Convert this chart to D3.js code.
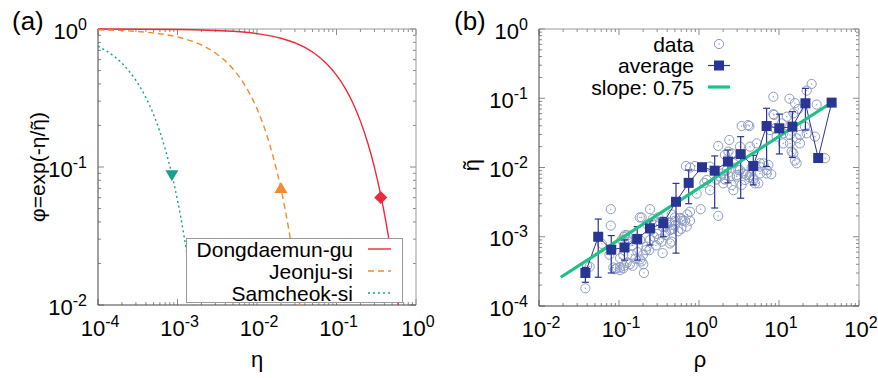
<!DOCTYPE html>
<html>
<head>
<meta charset="utf-8">
<script src="https://cdn.jsdelivr.net/npm/d3@7"></script>
<style>
  body { margin: 0; background: #fff; }
  text { font-family: "Liberation Sans", Arial, sans-serif; fill: #000; }
</style>
</head>
<body>
<div id="chart"></div>
<script>
// ---- panel (a): phi = exp(-eta / eta~) curves
const cities = ["Dongdaemun-gu", "Jeonju-si", "Samcheok-si"];
const dongEta = [1e-4, 1e-3, 0.005, 0.01, 0.02, 0.04, 0.06, 0.08, 0.1, 0.13, 0.16, 0.2, 0.25, 0.3, 0.36, 0.42, 0.5, 0.6];
const dongPhi = [0.999, 0.992, 0.962, 0.926, 0.857, 0.735, 0.630, 0.540, 0.463, 0.368, 0.292, 0.215, 0.146, 0.0995, 0.0627, 0.0395, 0.0214, 0.0099];
const jeonEta = [1e-4, 3e-4, 6e-4, 1e-3, 2e-3, 3e-3, 5e-3, 7e-3, 0.01, 0.013, 0.016, 0.02, 0.025, 0.03, 0.035];
const jeonPhi = [0.987, 0.961, 0.923, 0.875, 0.766, 0.670, 0.513, 0.393, 0.264, 0.177, 0.118, 0.0695, 0.0357, 0.0183, 0.0094];
const samEta = [1e-4, 1.5e-4, 2e-4, 3e-4, 4e-4, 5e-4, 6e-4, 7e-4, 8.5e-4, 1e-3, 1.2e-3, 1.4e-3, 1.6e-3, 1.7e-3];
const samPhi = [0.751, 0.651, 0.565, 0.424, 0.319, 0.240, 0.180, 0.135, 0.088, 0.0574, 0.0324, 0.0183, 0.0103, 0.0077];
const markEta = [0.36, 0.020, 0.00085];
const markPhi = [0.060, 0.070, 0.088];
const xExpA = [-4, -3, -2, -1, 0];
const yExpA = [-2, -1, 0];

// ---- panel (b): eta~ vs rho
const dataPts = [
  [0.038,0.00018],[0.040,0.00038],[0.079,0.0025],[0.079,0.00145],[0.076,0.00055],[0.085,0.00036],[0.094,0.00035],
  [0.103,0.00036],[0.115,0.00038],[0.108,0.00090],[0.115,0.00100],[0.127,0.00105],[0.132,0.00085],[0.144,0.00055],
  [0.148,0.00075],[0.163,0.00090],[0.183,0.00090],[0.201,0.00040],[0.183,0.00047],[0.205,0.00030],[0.182,0.0019],
  [0.244,0.0025],[0.222,0.00072],[0.239,0.00064],[0.274,0.00100],[0.249,0.00125],[0.226,0.0015],[0.325,0.00165],
  [0.358,0.00137],[0.376,0.00106],[0.402,0.0015],[0.426,0.0016],[0.455,0.00085],[0.478,0.0013],[0.50,0.0019],
  [0.579,0.00187],[0.625,0.0017],[0.668,0.0017],[0.715,0.0021],[0.772,0.0023],[0.688,0.0105],[0.89,0.0105],
  [1.05,0.0025],[1.17,0.0060],[1.25,0.0066],[1.74,0.0020],[1.37,0.0103],[1.37,0.0047],[1.66,0.0067],[1.74,0.0205],
  [1.92,0.0082],[2.01,0.0059],[2.11,0.0067],[2.44,0.0074],[2.56,0.0056],[2.69,0.0047],[2.96,0.0078],[3.10,0.0092],
  [3.25,0.0200],[3.41,0.0056],[3.58,0.0082],[3.94,0.0078],[4.26,0.0072],[4.55,0.0098],[4.78,0.0066],[5.01,0.0059],
  [5.52,0.0059],[5.79,0.0082],[7.01,0.0082],[4.34,0.0200],[11.3,0.0223],[13.7,0.0223],[15.1,0.0160],[16.6,0.0115],
  [15.8,0.0126],[37.6,0.0136],[25.6,0.161],[22.2,0.129],[8.5,0.105],[13.5,0.0986],[29.6,0.081],[8.5,0.059],
  [15.1,0.0606],[12.5,0.0542],[4.26,0.0397],[5.26,0.0223],[11.3,0.0311],[18.3,0.0295],[18.3,0.0223],[14.4,0.0170],
  [5.79,0.0103],[7.36,0.0109],[9.35,0.0279],[7.72,0.0348],[8.9,0.0368],[10.8,0.0434],[13.7,0.0295],[16.6,0.0264],
  [21.1,0.0389],[2.39,0.0250],[2.33,0.0170],[2.56,0.0160],[6.37,0.0115],[0.607,0.0018],[0.455,0.0021],[0.50,0.0017],
  [0.935,0.0042],[3.41,0.0397],[4.10,0.041],[28.2,0.0279],[8.66,0.0574],[0.119,0.00106],[0.131,0.00090],
  [0.113,0.00055],[0.103,0.00049],[0.089,0.00034],[0.113,0.00035],[0.148,0.00038],[0.192,0.00044],[0.217,0.00064],
  [0.244,0.00090],[0.192,0.0019],[0.310,0.0019],[0.264,0.0018],[0.341,0.00085],[0.319,0.00092],[0.434,0.00080],
  [0.351,0.00058],[0.455,0.00128],[0.387,0.00118],[0.043,0.00037],[0.061,0.00079],[0.103,0.00033],[0.50,0.00146],
  [0.376,0.0014],[0.434,0.00125],[0.701,0.0014],[0.772,0.0017],[3.25,0.0092],[2.96,0.0074],[3.76,0.0066],
  [4.34,0.0078],[4.78,0.0070],[5.79,0.0115],[7.01,0.0092],[2.11,0.0152],[2.69,0.0115],[1.83,0.0074],[2.22,0.0092],
  [0.772,0.0100],[15.8,0.085],[17.5,0.070],[22.2,0.0311],[8.0,0.0080],
  [0.125,0.00042],[0.137,0.00040],[0.160,0.00048],[0.170,0.00060],[0.200,0.00055],[0.290,0.00075],[0.300,0.0011],
  [0.55,0.0012],[0.60,0.0013]
];
const avgRho = [0.038, 0.055, 0.080, 0.117, 0.169, 0.244, 0.358, 0.516, 0.743, 1.09, 1.57, 2.30, 3.32, 4.77, 7.0, 10.1, 14.7, 21.4, 30.9, 45.5];
const avgEta = [3.0e-4, 1.0e-3, 6.5e-4, 7.0e-4, 9.3e-4, 1.32e-3, 1.57e-3, 3.2e-3, 6.0e-3, 1.01e-2, 9.0e-3, 1.22e-2, 1.56e-2, 1.05e-2, 3.97e-2, 3.68e-2, 3.89e-2, 8.46e-2, 1.37e-2, 8.65e-2];
const avgLo = [2.2e-4, 2.6e-4, 3.0e-4, 4.6e-4, 4.6e-4, 7.6e-4, 1.0e-3, 5.8e-4, 3.0e-3, 9.5e-3, 2.6e-3, 6.0e-3, 3.6e-3, 5.6e-3, 1.03e-2, 1.57e-2, 1.40e-2, 3.48e-2, 1.37e-2, 8.65e-2];
const avgHi = [3.6e-4, 1.8e-3, 1.04e-3, 9.0e-4, 1.4e-3, 1.7e-3, 1.9e-3, 5.9e-3, 9.2e-3, 1.07e-2, 1.47e-2, 1.79e-2, 2.79e-2, 1.50e-2, 7.16e-2, 5.9e-2, 6.4e-2, 0.139, 1.37e-2, 8.65e-2];
const slopeRho = [0.0187, 42.6];
const slopeEta = [2.6e-4, 0.0826];
const legendB = ["data", "average", "slope: 0.75"];
const xExpB = [-2, -1, 0, 1, 2];
const yExpB = [-4, -3, -2, -1, 0];

const cityColors = ["#ec2a3c", "#f5892d", "#17a08b"];
const navy = "#283593";

const svg = d3.select("#chart").append("svg")
  .attr("width", 878).attr("height", 378);

const xA = d3.scaleLog().domain([1e-4, 1]).range([98, 416]);
const yA = d3.scaleLog().domain([1e-2, 1]).range([305, 29]);
const xB = d3.scaleLog().domain([1e-2, 1e2]).range([539, 859]);
const yB = d3.scaleLog().domain([1e-4, 1]).range([306, 29]);

// log ticks on all four sides, gnuplot-like
function frame(x, y, xExp, yExp, yLabelX) {
  const [x0, x1] = x.range(), [y0, y1] = y.range();
  const g = svg.append("g");
  const minors = exps => {
    const out = [];
    exps.slice(0, -1).forEach(e => { for (let k = 2; k < 10; k++) out.push(k * Math.pow(10, e)); });
    return out;
  };
  const tick = "#8a8a8a";
  xExp.map(e => Math.pow(10, e)).forEach(v => {
    g.append("line").attr("x1", x(v)).attr("x2", x(v)).attr("y1", y0).attr("y2", y0 - 6).attr("stroke", tick);
    g.append("line").attr("x1", x(v)).attr("x2", x(v)).attr("y1", y1).attr("y2", y1 + 6).attr("stroke", tick);
  });
  minors(xExp).forEach(v => {
    g.append("line").attr("x1", x(v)).attr("x2", x(v)).attr("y1", y0).attr("y2", y0 - 3).attr("stroke", tick);
    g.append("line").attr("x1", x(v)).attr("x2", x(v)).attr("y1", y1).attr("y2", y1 + 3).attr("stroke", tick);
  });
  yExp.map(e => Math.pow(10, e)).forEach(v => {
    g.append("line").attr("y1", y(v)).attr("y2", y(v)).attr("x1", x0).attr("x2", x0 + 6).attr("stroke", tick);
    g.append("line").attr("y1", y(v)).attr("y2", y(v)).attr("x1", x1).attr("x2", x1 - 6).attr("stroke", tick);
  });
  minors(yExp).forEach(v => {
    g.append("line").attr("y1", y(v)).attr("y2", y(v)).attr("x1", x0).attr("x2", x0 + 3).attr("stroke", tick);
    g.append("line").attr("y1", y(v)).attr("y2", y(v)).attr("x1", x1).attr("x2", x1 - 3).attr("stroke", tick);
  });
  g.append("path").attr("d", `M${x0},${y1}H${x1}V${y0}`).attr("fill", "none").attr("stroke", "#999");
  g.append("path").attr("d", `M${x0},${y1}V${y0}H${x1}`).attr("fill", "none").attr("stroke", "#444");

  const label = (px, py, e, anchor) => {
    const t = svg.append("text").attr("x", px).attr("y", py).attr("text-anchor", anchor)
      .style("font-size", "22px");
    t.append("tspan").text("10");
    t.append("tspan").attr("dy", -9).style("font-size", "16px").text(e);
  };
  xExp.forEach(e => label(x(Math.pow(10, e)) + 2, y0 + 31, e, "middle"));
  yExp.forEach(e => label(yLabelX, y(Math.pow(10, e)) + 9.5, e, "end"));
}

frame(xA, yA, xExpA, yExpA, 87);
frame(xB, yB, xExpB, yExpB, 528);

// ---- panel (a) content
svg.append("clipPath").attr("id", "clipA").append("rect")
  .attr("x", 98).attr("y", 28).attr("width", 318).attr("height", 277);
const curvesA = [[dongEta, dongPhi], [jeonEta, jeonPhi], [samEta, samPhi]];
const dashes = [null, "6,4", "2,3"];
const lineA = d3.line().x(d => xA(d[0])).y(d => yA(d[1])).curve(d3.curveMonotoneX);
const gA = svg.append("g").attr("clip-path", "url(#clipA)");
curvesA.forEach(([ex, ph], i) => {
  gA.append("path").datum(ex.map((v, j) => [v, ph[j]]))
    .attr("d", lineA).attr("fill", "none")
    .attr("stroke", cityColors[i]).attr("stroke-width", 1.4)
    .attr("stroke-dasharray", dashes[i]);
});
const markShapes = ["M0,-6.5L6.5,0L0,6.5L-6.5,0Z", "M0,-6.5L6.5,4.5L-6.5,4.5Z", "M-6.5,-4.5L6.5,-4.5L0,6.5Z"];
markEta.forEach((v, i) => {
  gA.append("path").attr("d", markShapes[i])
    .attr("transform", `translate(${xA(v)},${yA(markPhi[i])})`)
    .attr("fill", cityColors[i]);
});

// legend (a)
svg.append("rect").attr("x", 186.5).attr("y", 238.5).attr("width", 216).attr("height", 64)
  .attr("fill", "#fff").attr("stroke", "#999");
cities.forEach((c, i) => {
  const yy = 249 + i * 22;
  svg.append("text").attr("x", 353).attr("y", yy + 7.5).attr("text-anchor", "end")
    .style("font-size", "21px").text(c);
  svg.append("line").attr("x1", 368).attr("x2", 391).attr("y1", yy).attr("y2", yy)
    .attr("stroke", cityColors[i]).attr("stroke-width", 1.4).attr("stroke-dasharray", dashes[i]);
});

// ---- panel (b) content
svg.append("clipPath").attr("id", "clipB").append("rect")
  .attr("x", 539).attr("y", 29).attr("width", 320).attr("height", 277);
const gB = svg.append("g").attr("clip-path", "url(#clipB)");
const circ = (g, cx, cy) => {
  g.append("circle").attr("cx", cx).attr("cy", cy).attr("r", 4.6)
    .attr("fill", "none").attr("stroke", "#8e9cc4").attr("stroke-width", 1);
  g.append("circle").attr("cx", cx).attr("cy", cy).attr("r", 0.7).attr("fill", "#8e9cc4");
};
dataPts.forEach(d => circ(gB, xB(d[0]), yB(d[1])));

// average: connecting line, error bars
gB.append("path").datum(avgRho.map((r, i) => [r, avgEta[i]]))
  .attr("d", d3.line().x(d => xB(d[0])).y(d => yB(d[1])))
  .attr("fill", "none").attr("stroke", navy).attr("stroke-width", 1);
avgRho.forEach((r, i) => {
  const cx = xB(r);
  gB.append("line").attr("x1", cx).attr("x2", cx).attr("y1", yB(avgLo[i])).attr("y2", yB(avgHi[i]))
    .attr("stroke", navy).attr("stroke-width", 1.2);
  [avgLo[i], avgHi[i]].forEach(v => gB.append("line")
    .attr("x1", cx - 3.5).attr("x2", cx + 3.5).attr("y1", yB(v)).attr("y2", yB(v))
    .attr("stroke", navy).attr("stroke-width", 1.2));
});

// slope line
gB.append("line")
  .attr("x1", xB(slopeRho[0])).attr("y1", yB(slopeEta[0]))
  .attr("x2", xB(slopeRho[1])).attr("y2", yB(slopeEta[1]))
  .attr("stroke", "#1fc186").attr("stroke-width", 3.2);

avgRho.forEach((r, i) => {
  gB.append("rect").attr("x", xB(r) - 5).attr("y", yB(avgEta[i]) - 5)
    .attr("width", 10).attr("height", 10).attr("fill", navy);
});

// legend (b)
legendB.forEach((t, i) => {
  const yy = 44 + i * 21.5;
  svg.append("text").attr("x", 694).attr("y", yy + 7.5).attr("text-anchor", "end")
    .style("font-size", "21px").text(t);
});
circ(svg, 719, 44);
svg.append("line").attr("x1", 708).attr("x2", 730).attr("y1", 65.5).attr("y2", 65.5)
  .attr("stroke", navy).attr("stroke-width", 1.2);
svg.append("rect").attr("x", 714).attr("y", 60.5).attr("width", 10).attr("height", 10).attr("fill", navy);
svg.append("line").attr("x1", 708).attr("x2", 730).attr("y1", 87).attr("y2", 87)
  .attr("stroke", "#1fc186").attr("stroke-width", 3.2);

// ---- titles
svg.append("text").attr("x", 12).attr("y", 30).style("font-size", "26px").text("(a)");
svg.append("text").attr("x", 454).attr("y", 30).style("font-size", "26px").text("(b)");
svg.append("text").attr("x", 257).attr("y", 367).attr("text-anchor", "middle")
  .style("font-size", "22px").text("η");
svg.append("text").attr("x", 700).attr("y", 367).attr("text-anchor", "middle")
  .style("font-size", "22px").text("ρ");

// rotated titles; the tilde is put over the last eta by hand
function tildeTitle(tx, ty, str, size) {
  const g = svg.append("g").attr("transform", `translate(${tx},${ty}) rotate(-90)`);
  const t = g.append("text").attr("text-anchor", "middle").style("font-size", size + "px").text(str);
  const n = str.length - (str.endsWith(")") ? 2 : 1);
  const ext = t.node().getExtentOfChar(n);
  g.append("text").attr("x", ext.x + ext.width / 2).attr("y", 0)
    .attr("text-anchor", "middle").style("font-size", size + "px").text("˜");
}
tildeTitle(45, 167, "φ=exp(-η/η)", 21);
tildeTitle(479, 165, "η", 22);
</script>
</body>
</html>
